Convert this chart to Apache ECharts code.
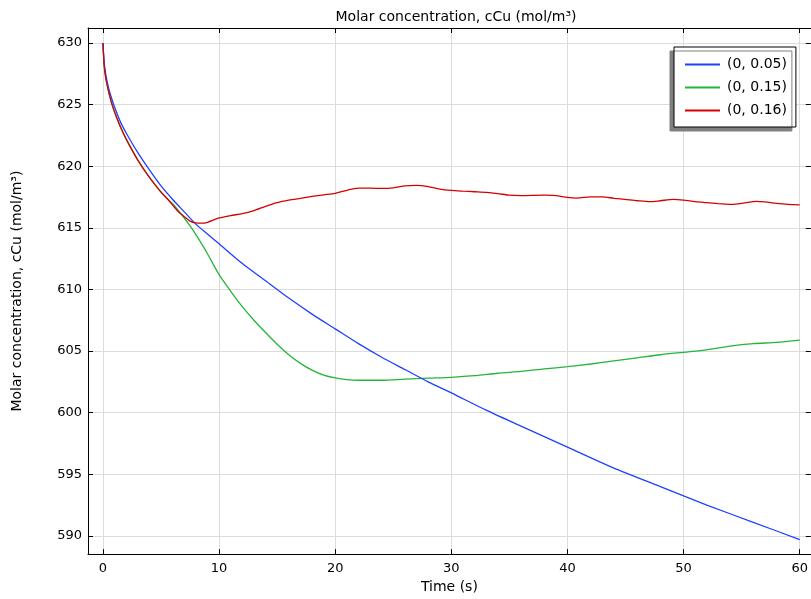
<!DOCTYPE html>
<html>
<head>
<meta charset="utf-8">
<script src="https://cdn.jsdelivr.net/npm/echarts@6/dist/echarts.min.js"></script>
<style>html,body{margin:0;padding:0;background:#fff}#c{width:811px;height:599px}</style>
</head>
<body>
<div id="c"></div>
<script>
const titleText = 'Molar concentration, cCu (mol/m³)';
const xName = 'Time (s)';
const yName = 'Molar concentration, cCu (mol/m³)';
const seriesNames = ['(0, 0.05)', '(0, 0.15)', '(0, 0.16)'];

const tBlue = [0, 0.1, 0.25, 0.5, 0.75, 1, 1.5, 2, 3, 4, 5, 6, 7, 8, 9, 10, 12, 14, 16, 18, 20, 22, 24, 26, 28, 30, 33, 36, 40, 44, 48, 52, 56, 60];
const cBlue = [630, 628.4, 627.4, 626.3, 625.5, 624.8, 623.6, 622.7, 621.1, 619.7, 618.4, 617.3, 616.3, 615.3, 614.5, 613.7, 612.1, 610.7, 609.3, 608.0, 606.8, 605.6, 604.5, 603.5, 602.5, 601.6, 600.2, 598.9, 597.2, 595.5, 594.0, 592.5, 591.1, 589.7];

const tGreen = [0, 0.1, 0.25, 0.5, 0.75, 1, 1.5, 2, 3, 4, 5, 5.5, 6, 6.5, 7, 7.5, 8, 8.5, 9, 10, 11, 12, 13, 14, 15, 16, 17, 18, 19, 20, 21, 22, 24, 26, 28, 30, 32, 34, 36, 38, 40, 42, 44, 46, 48, 50, 52, 54, 56, 58, 60];
const cGreen = [630, 628.2, 627.1, 626.0, 625.1, 624.4, 623.2, 622.2, 620.5, 619.1, 617.9, 617.4, 616.95, 616.4, 615.8, 615.15, 614.45, 613.7, 612.9, 611.2, 609.85, 608.6, 607.5, 606.5, 605.55, 604.7, 604.0, 603.45, 603.05, 602.82, 602.68, 602.63, 602.63, 602.72, 602.8, 602.87, 603.0, 603.2, 603.35, 603.55, 603.73, 603.95, 604.2, 604.45, 604.7, 604.9, 605.1, 605.4, 605.6, 605.7, 605.88];

const tRed = [0, 0.1, 0.25, 0.5, 0.75, 1, 1.5, 2, 3, 4, 5, 5.5, 6, 6.5, 7, 7.5, 8, 8.5, 9, 10, 11, 12, 13, 14, 15, 16, 17, 18, 19, 20, 21, 22, 23, 24, 25, 26, 27, 28, 29, 30, 31, 32, 33, 34, 35, 36, 38, 39, 40, 40.8, 42, 43, 44, 45.1, 46, 47.1, 48, 49.1, 50, 51, 52, 53, 54.3, 55, 56.3, 57, 58, 59, 60];
const cRed = [630, 628.2, 627.1, 626.0, 625.1, 624.4, 623.2, 622.2, 620.5, 619.1, 617.9, 617.4, 616.85, 616.3, 615.9, 615.55, 615.4, 615.38, 615.45, 615.8, 616.0, 616.15, 616.4, 616.75, 617.05, 617.25, 617.4, 617.55, 617.68, 617.8, 618.05, 618.22, 618.22, 618.2, 618.25, 618.4, 618.44, 618.35, 618.15, 618.04, 617.98, 617.93, 617.88, 617.78, 617.65, 617.62, 617.65, 617.62, 617.47, 617.42, 617.52, 617.52, 617.4, 617.29, 617.2, 617.12, 617.2, 617.31, 617.25, 617.12, 617.04, 616.97, 616.9, 616.98, 617.15, 617.1, 616.98, 616.9, 616.86];

const xMin = -1.29, xMax = 60.95;
const yMin = 588.52, yMax = 631.22;

function pairs(t, c) { return t.map((v, i) => [v, c[i]]); }

const FONT = 'DejaVu Sans';
const chart = echarts.init(document.getElementById('c'), null, {renderer: 'canvas'});

const axisCommon = {
  type: 'value',
  axisLine: {show: true, onZero: false, lineStyle: {color: '#000', width: 1}},
  axisTick: {show: true, inside: true, length: 5, lineStyle: {color: '#000', width: 1}},
};

chart.setOption({
  animation: false,
  backgroundColor: '#fff',
  color: ['#1f41ff', '#25b53a', '#d60000'],
  title: {
    text: titleText, left: 451, top: 5, textAlign: 'center',
    textStyle: {fontFamily: FONT, fontSize: 14, fontWeight: 'normal', color: '#000'}
  },
  grid: {left: 88, top: 28, width: 724, height: 527, containLabel: false},
  legend: {
    orient: 'vertical', left: 674, top: 47,
    data: seriesNames,
    backgroundColor: '#fff', borderColor: '#000', borderWidth: 1,
    padding: [10, 9, 9, 10], itemGap: 8, itemWidth: 35, itemHeight: 13,
    itemStyle: {opacity: 0},
    shadowColor: '#808080', shadowOffsetX: -4, shadowOffsetY: 4, shadowBlur: 0,
    textStyle: {fontFamily: FONT, fontSize: 14, color: '#000', lineHeight: 15, padding: [0, 0, 0, 2]}
  },
  xAxis: [
    Object.assign({}, axisCommon, {
      position: 'bottom', min: xMin, max: xMax, splitNumber: 6,
      name: xName, nameLocation: 'middle', nameGap: 23,
      nameTextStyle: {fontFamily: FONT, fontSize: 14, color: '#000'},
      axisLabel: {show: true, margin: 8, showMinLabel: false, showMaxLabel: false,
        fontFamily: FONT, fontSize: 13, color: '#000'},
      splitLine: {show: true, lineStyle: {color: '#dcdcdc', width: 1}}
    }),
    Object.assign({}, axisCommon, {
      position: 'top', min: xMin, max: xMax, splitNumber: 6,
      axisLabel: {show: false}, splitLine: {show: false}
    })
  ],
  yAxis: [
    Object.assign({}, axisCommon, {
      position: 'left', min: yMin, max: yMax, splitNumber: 8,
      name: yName, nameLocation: 'middle', nameGap: 64, nameRotate: 90,
      nameTextStyle: {fontFamily: FONT, fontSize: 14, color: '#000'},
      axisLabel: {show: true, margin: 6, showMinLabel: false, showMaxLabel: false,
        fontFamily: FONT, fontSize: 13, color: '#000'},
      splitLine: {show: true, lineStyle: {color: '#dcdcdc', width: 1}}
    }),
    Object.assign({}, axisCommon, {
      position: 'right', min: yMin, max: yMax, splitNumber: 8,
      axisLabel: {show: false}, splitLine: {show: false}
    })
  ],
  series: [
    {name: seriesNames[0], type: 'line', data: pairs(tBlue, cBlue), symbol: 'none', smooth: 0.25, lineStyle: {width: 1.3}, z: 3},
    {name: seriesNames[1], type: 'line', data: pairs(tGreen, cGreen), symbol: 'none', smooth: 0.25, lineStyle: {width: 1.3}, z: 2},
    {name: seriesNames[2], type: 'line', data: pairs(tRed, cRed), symbol: 'none', smooth: 0.25, lineStyle: {width: 1.3}, z: 4}
  ]
});
</script>
</body>
</html>
